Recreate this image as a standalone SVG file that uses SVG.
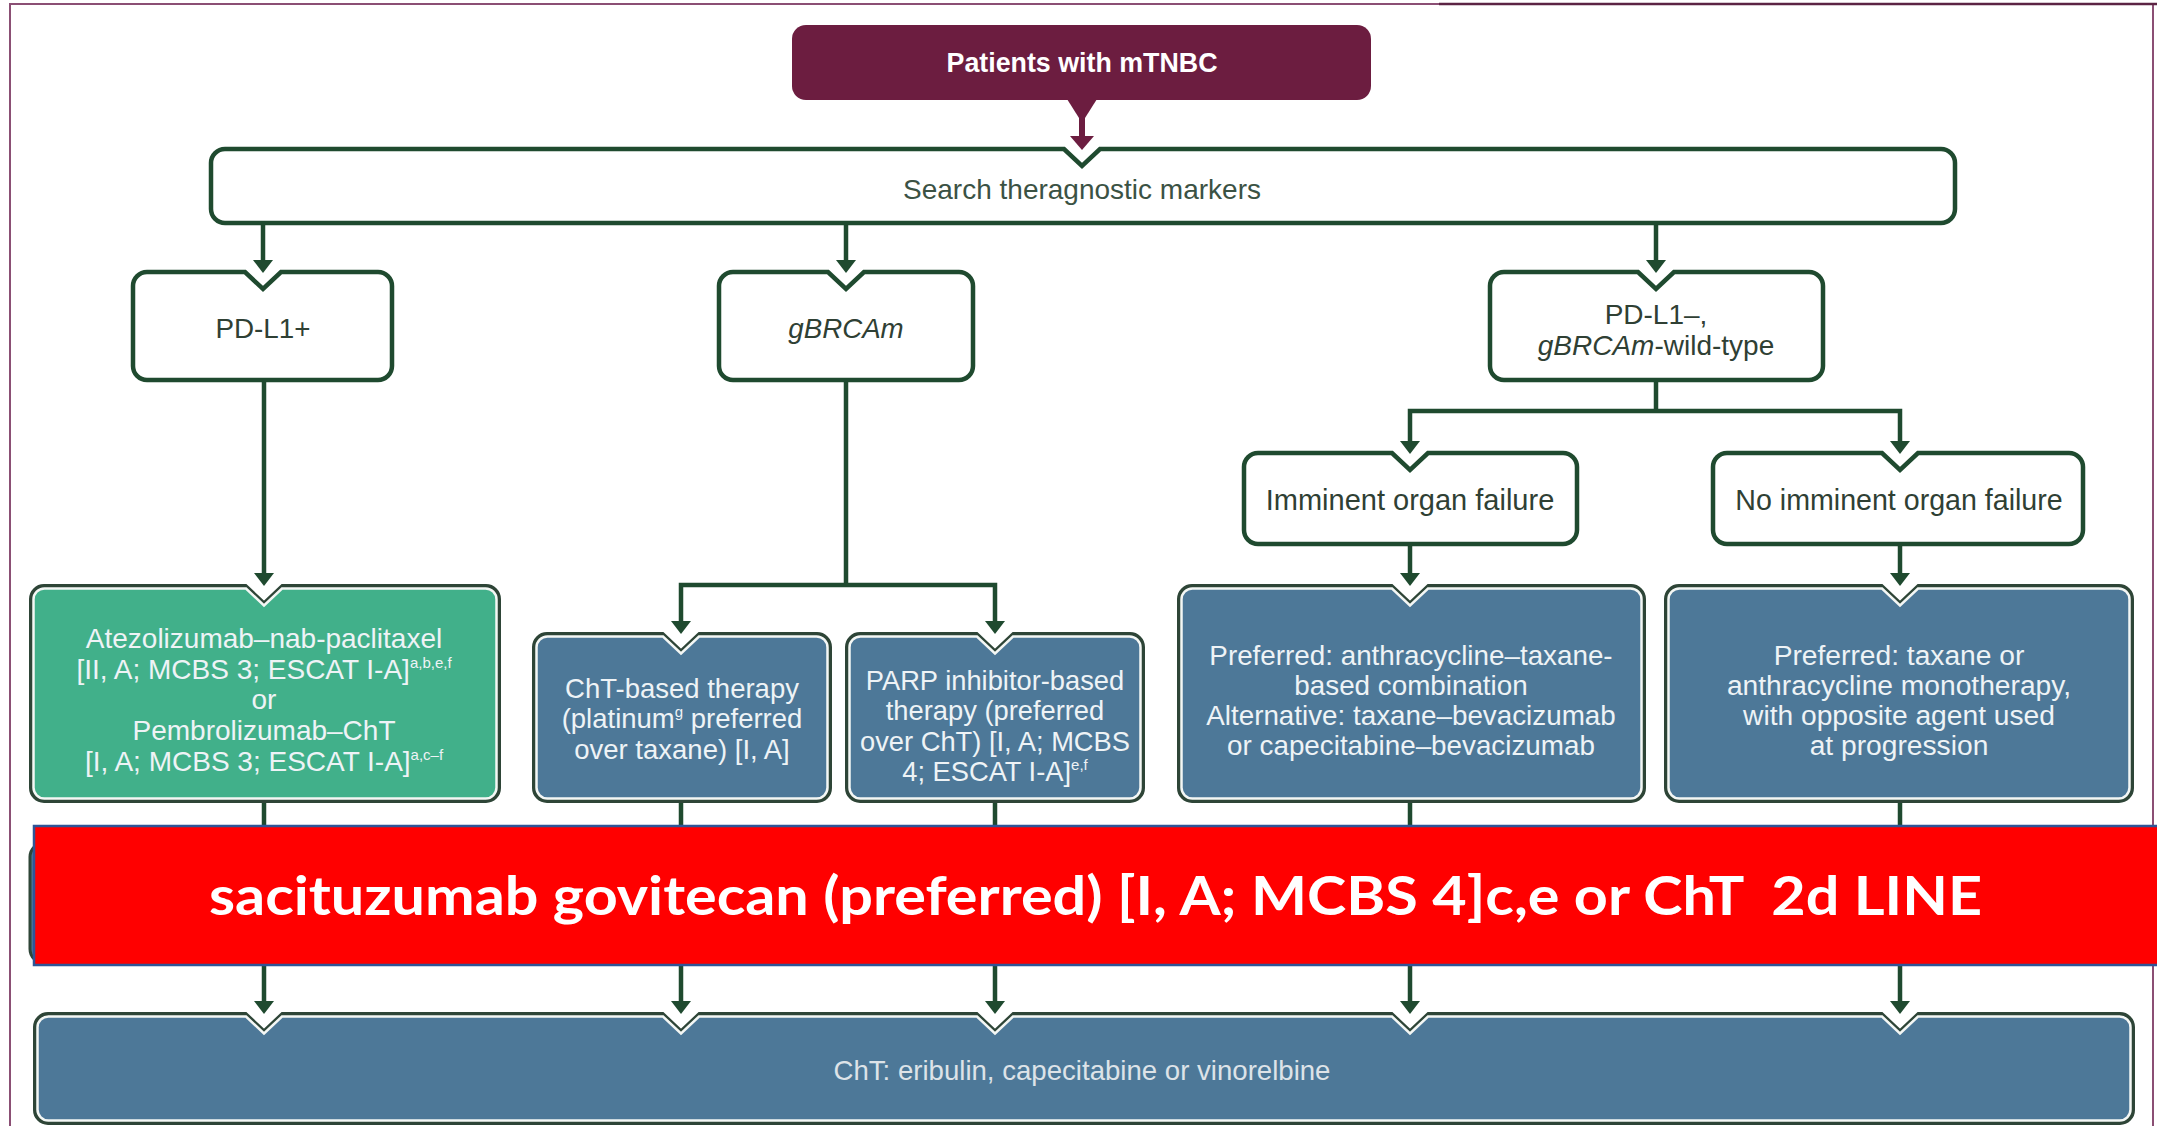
<svg xmlns="http://www.w3.org/2000/svg" width="2157" height="1126" viewBox="0 0 2157 1126">
<style>
  .t{font-family:"Liberation Sans",Arial,sans-serif;text-anchor:middle}
  .wn{fill:#ffffff;stroke:#1f4a2f;stroke-width:4.5}
  .wt{fill:#2f4034}
  .dk{fill:#2e4537;stroke:#2e4537;stroke-width:2}
  .bl{fill:#4d7898;stroke:#f4f7f5;stroke-width:2.5}
  .gr{fill:#41b08a;stroke:#f4f7f5;stroke-width:2.5}
  .lt{fill:#eef3f6}
  .con line,.con polyline{stroke:#1f4a2f;stroke-width:4.5;fill:none}
  .con polygon{fill:#1f4a2f}
  .sup{font-size:15px}
</style>
<rect x="0" y="0" width="2157" height="1126" fill="#ffffff"/>
<rect x="10" y="4" width="2143" height="1140" fill="none" stroke="#8b4f74" stroke-width="2"/>
<line x1="1439" y1="4" x2="2157" y2="4" stroke="#5c2444" stroke-width="2.5"/>

<g id="connectors" class="con">
  <line x1="1082" y1="100" x2="1082" y2="138" style="stroke:#6c1d40;stroke-width:6"/>
  <polygon points="1067,99 1097,99 1085,118 1079,118" style="fill:#6c1d40"/>
  <polygon points="1070,136 1094,136 1082,150" style="fill:#6c1d40"/>
  <line x1="263" y1="223" x2="263" y2="262"/><polygon points="253,260 273,260 263,273"/>
  <line x1="846" y1="223" x2="846" y2="262"/><polygon points="836,260 856,260 846,273"/>
  <line x1="1656" y1="223" x2="1656" y2="262"/><polygon points="1646,260 1666,260 1656,273"/>
  <line x1="264" y1="380" x2="264" y2="575"/><polygon points="254,573 274,573 264,586"/>
  <line x1="846" y1="380" x2="846" y2="585"/>
  <polyline points="681,623 681,585 995,585 995,623"/>
  <polygon points="671,621 691,621 681,634"/><polygon points="985,621 1005,621 995,634"/>
  <line x1="1656" y1="380" x2="1656" y2="411"/>
  <polyline points="1410,443 1410,411 1900,411 1900,443"/>
  <polygon points="1400,441 1420,441 1410,454"/><polygon points="1890,441 1910,441 1900,454"/>
  <line x1="1410" y1="544" x2="1410" y2="575"/><polygon points="1400,573 1420,573 1410,586"/>
  <line x1="1900" y1="544" x2="1900" y2="575"/><polygon points="1890,573 1910,573 1900,586"/>
  <line x1="264" y1="802" x2="264" y2="1003"/><polygon points="254,1001 274,1001 264,1014"/>
  <line x1="681" y1="802" x2="681" y2="1003"/><polygon points="671,1001 691,1001 681,1014"/>
  <line x1="995" y1="802" x2="995" y2="1003"/><polygon points="985,1001 1005,1001 995,1014"/>
  <line x1="1410" y1="802" x2="1410" y2="1003"/><polygon points="1400,1001 1420,1001 1410,1014"/>
  <line x1="1900" y1="802" x2="1900" y2="1003"/><polygon points="1890,1001 1910,1001 1900,1014"/>
</g>

<g id="patients">
  <rect x="792" y="25" width="579" height="75" rx="14" fill="#6c1d40"/>
  <text class="t" x="1082" y="72" font-size="26.8" font-weight="bold" fill="#ffffff">Patients with mTNBC</text>
</g>

<g id="search">
  <path class="wn" d="M225,149 L1064,149 L1082,166 L1100,149 L1941,149 A14,14 0 0 1 1955,163 L1955,209 A14,14 0 0 1 1941,223 L225,223 A14,14 0 0 1 211,209 L211,163 A14,14 0 0 1 225,149 Z"/>
  <text class="t wt" x="1082" y="199" font-size="28" style="fill:#3b5244">Search theragnostic markers</text>
</g>

<g id="pdl1pos">
  <path class="wn" d="M147,272 L245,272 L263,289 L281,272 L378,272 A14,14 0 0 1 392,286 L392,366 A14,14 0 0 1 378,380 L147,380 A14,14 0 0 1 133,366 L133,286 A14,14 0 0 1 147,272 Z"/>
  <text class="t wt" x="263" y="338" font-size="27.8">PD-L1+</text>
</g>

<g id="gbrcam">
  <path class="wn" d="M733,272 L828,272 L846,289 L864,272 L959,272 A14,14 0 0 1 973,286 L973,366 A14,14 0 0 1 959,380 L733,380 A14,14 0 0 1 719,366 L719,286 A14,14 0 0 1 733,272 Z"/>
  <text class="t wt" x="846" y="338" font-size="27.7" font-style="italic">gBRCAm</text>
</g>

<g id="pdl1neg">
  <path class="wn" d="M1504,272 L1638,272 L1656,289 L1674,272 L1809,272 A14,14 0 0 1 1823,286 L1823,366 A14,14 0 0 1 1809,380 L1504,380 A14,14 0 0 1 1490,366 L1490,286 A14,14 0 0 1 1504,272 Z"/>
  <text class="t wt" x="1656" y="324" font-size="28">PD-L1–,</text>
  <text class="t wt" x="1656" y="355" font-size="28"><tspan font-style="italic">gBRCAm</tspan>-wild-type</text>
</g>

<g id="imminent">
  <path class="wn" d="M1258,453 L1392,453 L1410,470 L1428,453 L1563,453 A14,14 0 0 1 1577,467 L1577,530 A14,14 0 0 1 1563,544 L1258,544 A14,14 0 0 1 1244,530 L1244,467 A14,14 0 0 1 1258,453 Z"/>
  <text class="t wt" x="1410" y="510" font-size="29">Imminent organ failure</text>
</g>

<g id="noimminent">
  <path class="wn" d="M1727,453 L1882,453 L1900,470 L1918,453 L2069,453 A14,14 0 0 1 2083,467 L2083,530 A14,14 0 0 1 2069,544 L1727,544 A14,14 0 0 1 1713,530 L1713,467 A14,14 0 0 1 1727,453 Z"/>
  <text class="t wt" x="1899" y="510" font-size="28.6">No imminent organ failure</text>
</g>

<g id="immuno">
  <path class="dk" d="M44,585 L246,585 L264,602 L282,585 L486,585 A14,14 0 0 1 500,599 L500,788 A14,14 0 0 1 486,802 L44,802 A14,14 0 0 1 30,788 L30,599 A14,14 0 0 1 44,585 Z"/>
  <path class="gr" d="M45,588.5 L246,588.5 L264,605.5 L282,588.5 L485,588.5 A11,11 0 0 1 496.5,600 L496.5,787 A11,11 0 0 1 485,798.5 L45,798.5 A11,11 0 0 1 33.5,787 L33.5,600 A11,11 0 0 1 45,588.5 Z"/>
  <g class="t lt" font-size="28">
    <text x="264" y="648">Atezolizumab–nab-paclitaxel</text>
    <text x="264" y="679">[II, A; MCBS 3; ESCAT I-A]<tspan class="sup" dy="-11">a,b,e,f</tspan></text>
    <text x="264" y="709">or</text>
    <text x="264" y="740">Pembrolizumab–ChT</text>
    <text x="264" y="771">[I, A; MCBS 3; ESCAT I-A]<tspan class="sup" dy="-11">a,c–f</tspan></text>
  </g>
</g>

<g id="cht">
  <path class="dk" d="M547,633 L663,633 L681,650 L699,633 L817,633 A14,14 0 0 1 831,647 L831,788 A14,14 0 0 1 817,802 L547,802 A14,14 0 0 1 533,788 L533,647 A14,14 0 0 1 547,633 Z"/>
  <path class="bl" d="M548,636.5 L663,636.5 L681,653.5 L699,636.5 L816,636.5 A11,11 0 0 1 827.5,648 L827.5,787 A11,11 0 0 1 816,798.5 L548,798.5 A11,11 0 0 1 536.5,787 L536.5,648 A11,11 0 0 1 548,636.5 Z"/>
  <g class="t lt" font-size="27.5">
    <text x="682" y="698">ChT-based therapy</text>
    <text x="682" y="728">(platinum<tspan class="sup" dy="-11">g</tspan><tspan dy="11"> preferred</tspan></text>
    <text x="682" y="759">over taxane) [I, A]</text>
  </g>
</g>

<g id="parp">
  <path class="dk" d="M860,633 L977,633 L995,650 L1013,633 L1130,633 A14,14 0 0 1 1144,647 L1144,788 A14,14 0 0 1 1130,802 L860,802 A14,14 0 0 1 846,788 L846,647 A14,14 0 0 1 860,633 Z"/>
  <path class="bl" d="M861,636.5 L977,636.5 L995,653.5 L1013,636.5 L1129,636.5 A11,11 0 0 1 1140.5,648 L1140.5,787 A11,11 0 0 1 1129,798.5 L861,798.5 A11,11 0 0 1 849.5,787 L849.5,648 A11,11 0 0 1 861,636.5 Z"/>
  <g class="t lt" font-size="27.3">
    <text x="995" y="690">PARP inhibitor-based</text>
    <text x="995" y="720">therapy (preferred</text>
    <text x="995" y="751">over ChT) [I, A; MCBS</text>
    <text x="995" y="781">4; ESCAT I-A]<tspan class="sup" dy="-11">e,f</tspan></text>
  </g>
</g>

<g id="imminent-tx">
  <path class="dk" d="M1192,585 L1392,585 L1410,602 L1428,585 L1631,585 A14,14 0 0 1 1645,599 L1645,788 A14,14 0 0 1 1631,802 L1192,802 A14,14 0 0 1 1178,788 L1178,599 A14,14 0 0 1 1192,585 Z"/>
  <path class="bl" d="M1193,588.5 L1392,588.5 L1410,605.5 L1428,588.5 L1630,588.5 A11,11 0 0 1 1641.5,600 L1641.5,787 A11,11 0 0 1 1630,798.5 L1193,798.5 A11,11 0 0 1 1181.5,787 L1181.5,600 A11,11 0 0 1 1193,588.5 Z"/>
  <g class="t lt" font-size="27.8">
    <text x="1411" y="665">Preferred: anthracycline–taxane-</text>
    <text x="1411" y="695">based combination</text>
    <text x="1411" y="725">Alternative: taxane–bevacizumab</text>
    <text x="1411" y="755">or capecitabine–bevacizumab</text>
  </g>
</g>

<g id="noimminent-tx">
  <path class="dk" d="M1679,585 L1882,585 L1900,602 L1918,585 L2119,585 A14,14 0 0 1 2133,599 L2133,788 A14,14 0 0 1 2119,802 L1679,802 A14,14 0 0 1 1665,788 L1665,599 A14,14 0 0 1 1679,585 Z"/>
  <path class="bl" d="M1680,588.5 L1882,588.5 L1900,605.5 L1918,588.5 L2118,588.5 A11,11 0 0 1 2129.5,600 L2129.5,787 A11,11 0 0 1 2118,798.5 L1680,798.5 A11,11 0 0 1 1668.5,787 L1668.5,600 A11,11 0 0 1 1680,588.5 Z"/>
  <g class="t lt" font-size="28.2">
    <text x="1899" y="665">Preferred: taxane or</text>
    <text x="1899" y="695">anthracycline monotherapy,</text>
    <text x="1899" y="725">with opposite agent used</text>
    <text x="1899" y="755">at progression</text>
  </g>
</g>

<g id="later-line">
  <path class="dk" d="M48,1013 L246,1013 L264,1030 L282,1013 L663,1013 L681,1030 L699,1013 L977,1013 L995,1030 L1013,1013 L1392,1013 L1410,1030 L1428,1013 L1882,1013 L1900,1030 L1918,1013 L2120,1013 A14,14 0 0 1 2134,1027 L2134,1110 A14,14 0 0 1 2120,1124 L48,1124 A14,14 0 0 1 34,1110 L34,1027 A14,14 0 0 1 48,1013 Z"/>
  <path class="bl" d="M49,1016.5 L246,1016.5 L264,1033.5 L282,1016.5 L663,1016.5 L681,1033.5 L699,1016.5 L977,1016.5 L995,1033.5 L1013,1016.5 L1392,1016.5 L1410,1033.5 L1428,1016.5 L1882,1016.5 L1900,1033.5 L1918,1016.5 L2119,1016.5 A11,11 0 0 1 2130.5,1028 L2130.5,1109 A11,11 0 0 1 2119,1120.5 L49,1120.5 A11,11 0 0 1 37.5,1109 L37.5,1028 A11,11 0 0 1 49,1016.5 Z"/>
  <text class="t" x="1082" y="1080" font-size="27.6" fill="#dde3e8">ChT: eribulin, capecitabine or vinorelbine</text>
</g>

<g id="hidden-box">
  <rect x="30" y="843" width="2100" height="120" rx="14" fill="#4d7898" stroke="#2e4537" stroke-width="3"/>
</g>

<g id="banner">
  <rect x="34" y="826" width="2130" height="139" fill="#ff0000" stroke="#2f5597" stroke-width="2.5"/>
  <text x="209" y="915" font-family="Lato,'Open Sans',sans-serif" font-weight="bold" font-size="53" fill="#ffffff" textLength="1773" lengthAdjust="spacingAndGlyphs" style="white-space:pre">sacituzumab govitecan (preferred) [I, A; MCBS 4]c,e or ChT  2d LINE</text>
</g>
</svg>
